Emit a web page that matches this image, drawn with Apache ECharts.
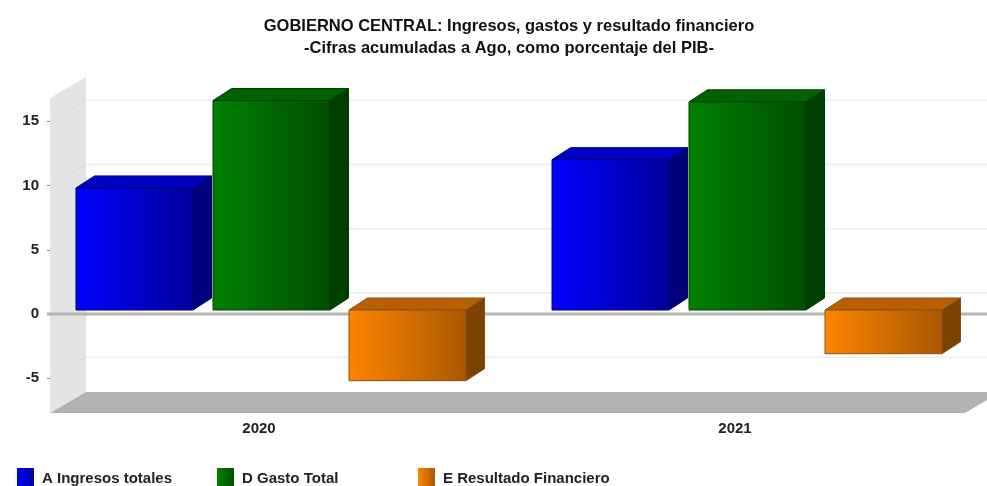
<!DOCTYPE html>
<html>
<head>
<meta charset="utf-8">
<style>
  html, body { margin: 0; padding: 0; background: #fff; }
  #chart { width: 987px; height: 486px; filter: blur(0.7px); }
</style>
<script src="https://cdn.jsdelivr.net/npm/echarts@6/dist/echarts.min.js"></script>
</head>
<body>
<div id="chart"></div>
<script>
const categories = ['2020', '2021'];
const ingresos = [9.5, 11.7];
const gasto = [16.3, 16.2];
const resultado = [-5.5, -3.4];
const yTicks = [-5, 0, 5, 10, 15];
const seriesNames = ['A Ingresos totales', 'D Gasto Total', 'E Resultado Financiero'];
const wallRange = [-7.7, 16.8];

const FONT = '"Liberation Sans", Arial, sans-serif';
const WALL_DX = 36, WALL_DY = -21;     // depth of the chart box
const BAR_DX = 18.5, BAR_DY = -12;     // depth of a bar
const BAR_SHIFT_Y = -4;                // bars stand a little behind the front plane
const BAR_W = 117;
const BAR_OFFSETS = [-183, -46, 90];   // left edge of the bar from the band centre

const palette = [
  { left: '#0000ff', right: '#00009c', top: '#0000c4', side: '#00007c', edge: '#000070' },
  { left: '#008000', right: '#004f00', top: '#006200', side: '#003f00', edge: '#003c00' },
  { left: '#ff8400', right: '#a85800', top: '#b86000', side: '#7c4200', edge: '#84501a' }
];

function grad(c) {
  return new echarts.graphic.LinearGradient(0, 0, 1, 0, [
    { offset: 0, color: c.left },
    { offset: 1, color: c.right }
  ]);
}

function poly(points, fill, stroke) {
  return {
    type: 'polygon',
    shape: { points: points },
    style: { fill: fill, stroke: stroke || null, lineWidth: stroke ? 1 : 0 }
  };
}

// one 3d bar: front, top and side faces, placed through the axes
function renderBar(params, api) {
  const i = params.seriesIndex - 3;
  const c = palette[i];
  const zero = api.coord([api.value(0), 0]);
  const end = api.coord([api.value(0), api.value(1)]);
  const x0 = zero[0] + BAR_OFFSETS[i];
  const x1 = x0 + BAR_W;
  const yTop = Math.min(zero[1], end[1]) + BAR_SHIFT_Y;
  const yBot = Math.max(zero[1], end[1]) + BAR_SHIFT_Y;
  return {
    type: 'group',
    children: [
      poly([[x0, yTop], [x0 + BAR_DX, yTop + BAR_DY], [x1 + BAR_DX, yTop + BAR_DY], [x1, yTop]], c.top, c.edge),
      poly([[x1, yTop], [x1 + BAR_DX, yTop + BAR_DY], [x1 + BAR_DX, yBot + BAR_DY], [x1, yBot]], c.side, c.edge),
      poly([[x0, yTop], [x1, yTop], [x1, yBot], [x0, yBot]], grad(c), c.edge)
    ]
  };
}

// left wall and floor
function renderBox(params, api) {
  const lo = api.coord([0, api.value(1)]);
  const hi = api.coord([0, api.value(2)]);
  const x = 50, xEnd = 965;
  return {
    type: 'group',
    children: [
      poly([[x, hi[1]], [x + WALL_DX, hi[1] + WALL_DY], [x + WALL_DX, lo[1] + WALL_DY], [x, lo[1]]], '#e4e4e4'),
      poly([[x, lo[1]], [x + WALL_DX, lo[1] + WALL_DY], [xEnd + WALL_DX, lo[1] + WALL_DY], [xEnd, lo[1]]], '#b2b2b2')
    ]
  };
}

// grid line on the back plane, running back across the wall
function renderGrid(params, api) {
  const p = api.coord([0, api.value(1)]);
  const x = 50;
  const yb = p[1] + WALL_DY;
  return {
    type: 'group',
    children: [
      { type: 'line', shape: { x1: x + WALL_DX, y1: yb, x2: 987, y2: yb }, style: { stroke: '#f0f0f0', lineWidth: 2 } },
      { type: 'line', shape: { x1: x, y1: p[1], x2: x + WALL_DX, y2: yb }, style: { stroke: '#dcdcdc', lineWidth: 1 } }
    ]
  };
}

function renderZero(params, api) {
  const p = api.coord([0, 0]);
  return {
    type: 'line',
    shape: { x1: 47, y1: p[1], x2: 987, y2: p[1] },
    style: { stroke: '#b4b4b4', lineWidth: 3 }
  };
}

function toPairs(values) {
  return values.map((v, i) => [i, v]);
}

function legendAt(left, name) {
  return {
    left: left,
    top: 468,
    padding: 0,
    itemWidth: 17,
    itemHeight: 18,
    icon: 'rect',
    selectedMode: false,
    data: [name],
    formatter: '{t|{name}}',
    textStyle: {
      rich: {
        t: {
          fontFamily: FONT,
          fontWeight: 'bold',
          fontSize: 15,
          color: '#222',
          padding: [4, 0, 0, 3]
        }
      }
    }
  };
}

const myChart = echarts.init(document.getElementById('chart'));

const option = {
  animation: false,
  backgroundColor: '#fff',
  title: {
    text: 'GOBIERNO CENTRAL: Ingresos, gastos y resultado financiero\n-Cifras acumuladas a Ago, como porcentaje del PIB-',
    left: 504,
    top: 10,
    textAlign: 'center',
    textStyle: { fontFamily: FONT, fontWeight: 'bold', fontSize: 16.5, lineHeight: 22, color: '#111' }
  },
  legend: [
    legendAt(17, seriesNames[0]),
    legendAt(217, seriesNames[1]),
    legendAt(418, seriesNames[2])
  ],
  grid: { left: 21, width: 952, top: 57, height: 385.5 },
  xAxis: {
    type: 'category',
    data: categories,
    offset: -27,
    axisLine: { show: false },
    axisTick: { show: false },
    axisLabel: { margin: 6, fontFamily: FONT, fontWeight: 'bold', fontSize: 15, color: '#222' }
  },
  yAxis: {
    type: 'value',
    min: -10,
    max: 20,
    interval: 5,
    offset: -29,
    splitLine: { show: false },
    axisLine: { show: false },
    axisTick: { show: true, length: 3, customValues: yTicks, lineStyle: { color: '#888' } },
    axisLabel: { customValues: yTicks, margin: 11, fontFamily: FONT, fontWeight: 'bold', fontSize: 15, color: '#222' }
  },
  series: [
    { type: 'custom', silent: true, clip: false, z: 1, renderItem: renderBox, data: [[0, wallRange[0], wallRange[1]]] },
    { type: 'custom', silent: true, clip: false, z: 2, renderItem: renderGrid, data: yTicks.map(v => [0, v]) },
    { type: 'custom', silent: true, clip: false, z: 3, renderItem: renderZero, data: [[0, 0]] },
    { name: seriesNames[0], type: 'custom', clip: false, z: 4, renderItem: renderBar, itemStyle: { color: grad(palette[0]) }, data: toPairs(ingresos) },
    { name: seriesNames[1], type: 'custom', clip: false, z: 4, renderItem: renderBar, itemStyle: { color: grad(palette[1]) }, data: toPairs(gasto) },
    { name: seriesNames[2], type: 'custom', clip: false, z: 4, renderItem: renderBar, itemStyle: { color: grad(palette[2]) }, data: toPairs(resultado) }
  ]
};

option && myChart.setOption(option);
</script>
</body>
</html>
